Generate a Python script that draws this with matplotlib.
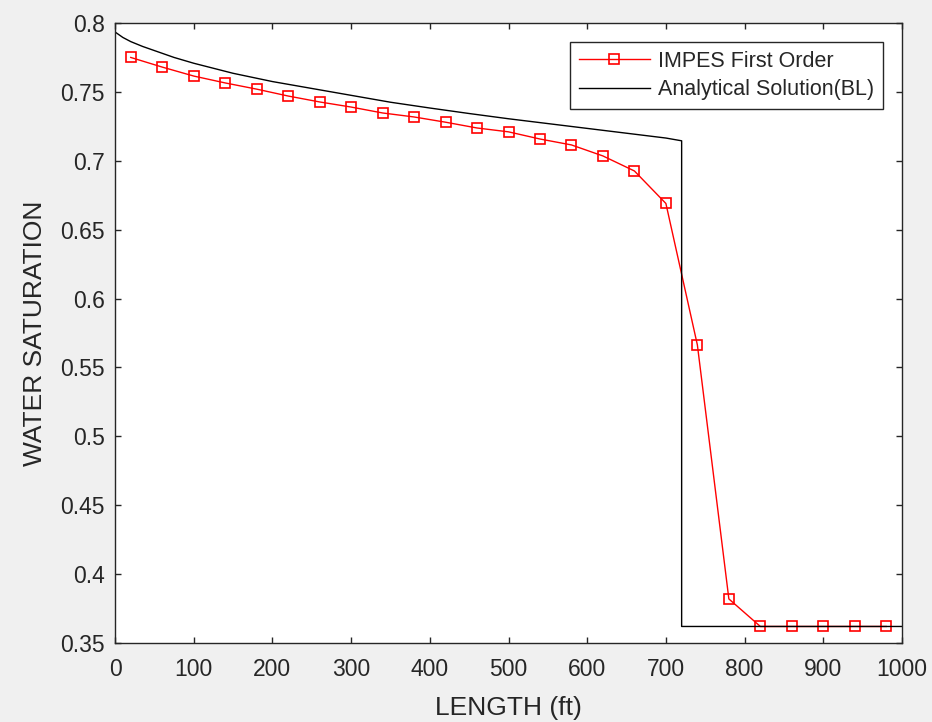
import matplotlib
matplotlib.use("Agg")
import matplotlib.pyplot as plt

# IMPES first-order numerical solution
impes_x = [20, 60, 100, 140, 180, 220, 260, 300, 340, 380, 420, 460, 500,
           540, 580, 620, 660, 700, 740, 780, 820, 860, 900, 940, 980]
impes_sw = [0.775, 0.768, 0.7615, 0.7565, 0.752, 0.747, 0.7427, 0.739, 0.7347,
            0.7318, 0.728, 0.7238, 0.721, 0.7158, 0.7115, 0.7035, 0.6926,
            0.669, 0.5663, 0.382, 0.362, 0.362, 0.362, 0.362, 0.362]

# Analytical Buckley-Leverett solution
bl_x = [0, 10, 20, 35, 50, 75, 100, 150, 200, 250, 300, 350, 400, 450, 500, 550, 600,
        650, 700, 720, 720, 1000]
bl_sw = [0.7935, 0.7895, 0.7865, 0.783, 0.780, 0.775, 0.7708, 0.7635, 0.7575,
         0.7525, 0.7475, 0.7425, 0.7383, 0.7343, 0.7305, 0.727, 0.7235, 0.720,
         0.7165, 0.7145, 0.362, 0.362]

x_ticks = [0, 100, 200, 300, 400, 500, 600, 700, 800, 900, 1000]
y_ticks = [0.35, 0.4, 0.45, 0.5, 0.55, 0.6, 0.65, 0.7, 0.75, 0.8]
y_tick_labels = ["0.35", "0.4", "0.45", "0.5", "0.55", "0.6", "0.65", "0.7", "0.75", "0.8"]

plt.rcParams['font.family'] = ['Liberation Sans', 'DejaVu Sans']
gray = '#262626'

fig = plt.figure(figsize=(9.32, 7.22), dpi=100, facecolor='#f0f0f0')
ax = fig.add_axes([115/932, 79/722, 787/932, 620/722])
ax.set_facecolor('white')

ax.plot(impes_x, impes_sw, color='red', lw=1.0, marker='s', ms=7.5,
        mfc='none', mec='red', mew=1.2, label='IMPES First Order')
ax.plot(bl_x, bl_sw, color='black', lw=1.0, label='Analytical Solution(BL)')

ax.set_xlim(0, 1000)
ax.set_ylim(0.35, 0.8)
ax.set_xticks(x_ticks)
ax.set_yticks(y_ticks)
ax.set_yticklabels(y_tick_labels)
ax.tick_params(direction='in', length=4.5, width=1, colors=gray,
               labelsize=16.5, top=True, right=True)
ax.tick_params(axis='x', pad=10.5)
ax.tick_params(axis='y', pad=7.5)
for s in ax.spines.values():
    s.set_color(gray)
    s.set_linewidth(1)

ax.set_xlabel('LENGTH (ft)', fontsize=19, color=gray, labelpad=11)
ax.set_ylabel('WATER SATURATION', fontsize=19, color=gray, labelpad=9)

leg = ax.legend(loc='upper right', fontsize=15.5, handlelength=3.3,
                fancybox=False, framealpha=1, edgecolor=gray,
                borderpad=0.4, labelspacing=0.35, handletextpad=0.4,
                borderaxespad=0, bbox_to_anchor=(1 - 19/787, 1 - 19/620))
leg.get_frame().set_linewidth(1)
for t in leg.get_texts():
    t.set_color(gray)

fig.savefig('out.png', dpi=100, facecolor=fig.get_facecolor())
